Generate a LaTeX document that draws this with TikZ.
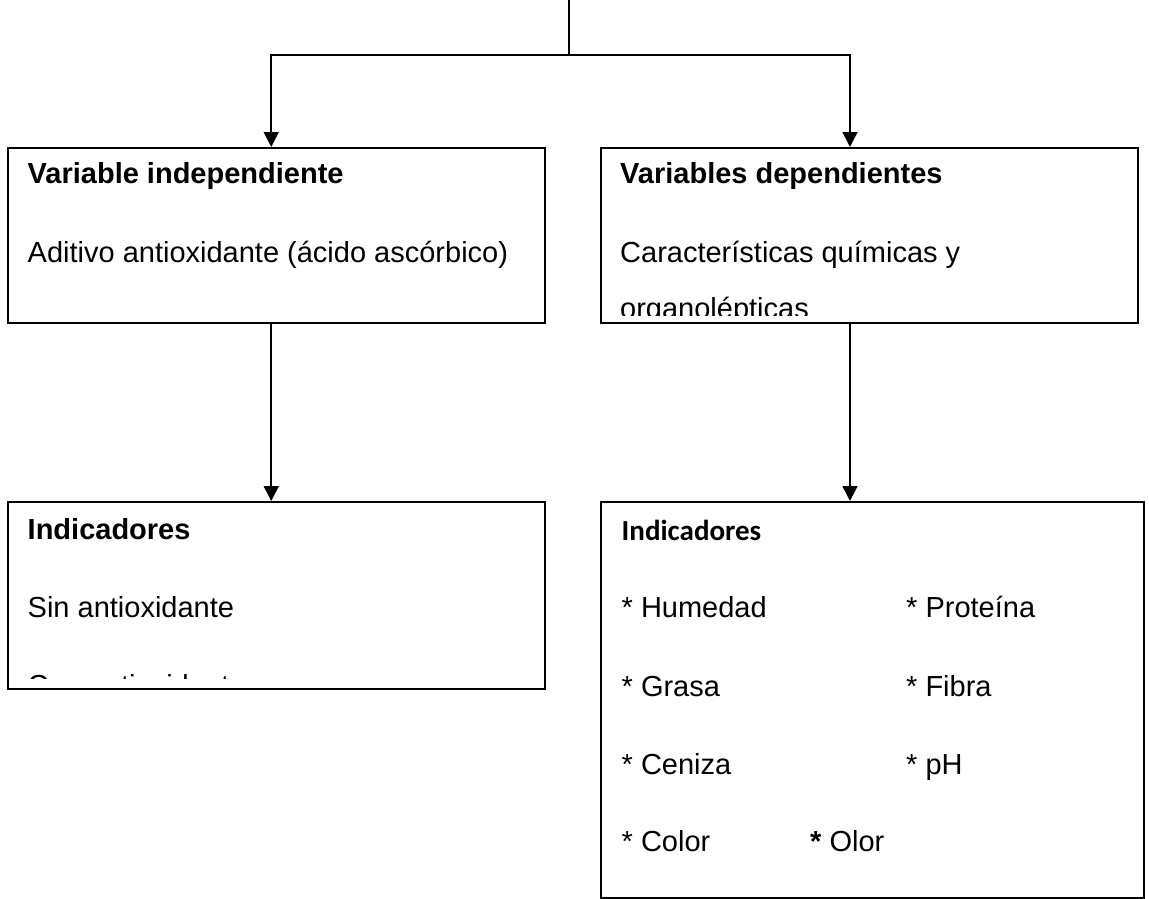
\documentclass[tikz,border=0pt]{standalone}
\usepackage{fontspec}
\setmainfont{Liberation Sans}
\newfontfamily\calibri{Carlito}
\usetikzlibrary{arrows.meta}
\begin{document}
\begin{tikzpicture}[x=1pt,y=-1pt,
  box/.style={draw,line width=2pt,inner sep=0pt,anchor=north west},
  link/.style={line width=1.6pt},
  arr/.style={line width=1.6pt,-{Triangle[width=15pt,length=15pt]}},
  txt/.style={anchor=base west,inner sep=0pt,font=\fontsize{29}{35}\selectfont},
  head/.style={txt,font=\fontsize{29}{35}\selectfont\bfseries},
  chead/.style={txt,font=\fontsize{29}{35}\selectfont\calibri\bfseries}]
\useasboundingbox (0,0) rectangle (1149,899);

% boxes
\node[box,minimum width=537pt,minimum height=175pt] (b1) at (6.5,147) {};
\node[box,minimum width=537pt,minimum height=175pt] (b2) at (600,147) {};
\node[box,minimum width=537pt,minimum height=187pt] (b3) at (6.5,501) {};
\node[box,minimum width=543pt,minimum height=396pt] (b4) at (600,501) {};

% branching connector from the top
\coordinate (top) at (569,0);
\coordinate (split) at (569,55);
\draw[link] (top) -- (split);
\draw[arr] (split) -| ([xshift=-4.75pt]b1.north);
\draw[arr] (split) -| ([xshift=-19.5pt]b2.north);
\draw[arr] ([xshift=-4.75pt]b1.south) -- ([xshift=-4.75pt]b3.north);
\draw[arr] ([xshift=-19.5pt]b2.south) -- ([xshift=-22.5pt]b4.north);

% box 1
\node[head] (t11) at (27.5,183) {Variable independiente};
\node[txt] (t12) at (27.5,262) {Aditivo antioxidante (ácido ascórbico)};

% box 2
\node[head] (t21) at (620,183) {Variables dependientes};
\node[txt] (t22) at (620,262) {Características químicas y};
\begin{scope}
  \clip (600,290) rectangle (1137,315);
  \node[txt] (t23) at (620,318) {organolépticas};
\end{scope}

% box 3
\node[head] (t31) at (27.5,539) {Indicadores};
\node[txt] (t32) at (27.5,617) {Sin antioxidante};
\begin{scope}
  \clip (6.5,660) rectangle (543,678);
  \node[txt] (t33) at (27.5,695) {Con antioxidante};
\end{scope}

% box 4
\node[chead] (t41) at (621.5,540) {Indicadores};
\node[txt] (h1) at (621.5,617) {* Humedad};
\node[txt] (h2) at (906,617) {* Proteína};
\node[txt] (h3) at (621.5,696) {* Grasa};
\node[txt] (h4) at (906,696) {* Fibra};
\node[txt] (h5) at (621.5,774) {* Ceniza};
\node[txt] (h6) at (906,774) {* pH};
\node[txt] (h7) at (621.5,851) {* Color};
\node[txt] (h8) at (810,851) {{\bfseries *} Olor};
\end{tikzpicture}
\end{document}
